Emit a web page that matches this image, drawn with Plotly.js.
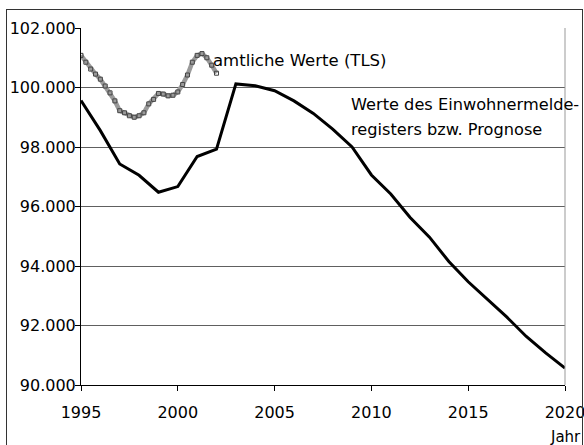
<!DOCTYPE html>
<html>
<head>
<meta charset="utf-8">
<script src="https://cdn.plot.ly/plotly-3.0.1.min.js"></script>
<style>
html,body{margin:0;padding:0;background:#fff;overflow:hidden;}
#wrap{position:relative;width:584px;height:445px;}
#chart{width:584px;height:445px;}
#frame{position:absolute;left:6px;top:9px;width:577px;height:445px;border:1.5px solid #333;box-sizing:border-box;pointer-events:none;}
</style>
</head>
<body>
<div id="wrap"><div id="chart"></div><div id="frame"></div></div>
<script>
// Einwohnermelderegister bzw. Prognose (yearly)
const years = [1995,1996,1997,1998,1999,2000,2001,2002,2003,2004,2005,2006,2007,2008,2009,2010,2011,2012,2013,2014,2015,2016,2017,2018,2019,2020];
const registerValues = [99560,98550,97430,97050,96480,96670,97680,97930,100120,100060,99890,99550,99130,98600,98000,97060,96420,95630,94970,94150,93470,92860,92280,91630,91080,90570];

// amtliche Werte (TLS), read at quarter-year steps
const tlsTimes = [1995.0,1995.25,1995.5,1995.75,1996.0,1996.25,1996.5,1996.75,1997.0,1997.25,1997.5,1997.75,1998.0,1998.25,1998.5,1998.75,1999.0,1999.25,1999.5,1999.75,2000.0,2000.25,2000.5,2000.75,2001.0,2001.25,2001.5,2001.75,2002.0];
const tlsValues = [101080,100850,100620,100450,100280,100050,99820,99550,99220,99150,99050,99000,99050,99150,99450,99600,99800,99780,99720,99740,99850,100100,100420,100850,101080,101140,101000,100750,100480];

const xTicks = [1995,2000,2005,2010,2015,2020];
const yTicks = [90000,92000,94000,96000,98000,100000,102000];

const labelTLS = "amtliche Werte (TLS)";
const labelReg1 = "Werte des Einwohnermelde-";
const labelReg2 = "registers bzw. Prognose";
const labelX = "Jahr";

const FONT = "DejaVu Sans, Arial, sans-serif";

const traces = [
  {
    x: tlsTimes, y: tlsValues, type: "scatter", mode: "lines+markers",
    line: {color: "#9a9a9a", width: 4.5},
    marker: {symbol: "square-open", size: 4, color: "#444", line: {width: 1, color: "#444"}},
    hoverinfo: "skip"
  },
  {
    x: years, y: registerValues, type: "scatter", mode: "lines",
    line: {color: "#000", width: 3},
    hoverinfo: "skip"
  }
];

const layout = {
  width: 584, height: 445,
  margin: {l: 81, r: 19, t: 28, b: 60, pad: 0},
  paper_bgcolor: "#fff", plot_bgcolor: "#fff",
  showlegend: false,
  separators: ",.",
  font: {family: FONT, size: 16, color: "#000"},
  xaxis: {
    range: [1995, 2020], tickvals: xTicks, ticktext: xTicks.map(String),
    showgrid: false, zeroline: false,
    showline: true, linecolor: "#000", linewidth: 1,
    ticks: "outside", ticklen: 5, tickcolor: "#000", tickwidth: 1,
    tickfont: {family: FONT, size: 16, color: "#000"},
    ticklabeloverflow: "allow",
    ticklabelstandoff: 8,
    automargin: false
  },
  yaxis: {
    range: [90000, 102000], tickvals: yTicks, tickformat: ",d",
    showgrid: true, gridcolor: "#606060", gridwidth: 1,
    zeroline: false,
    showline: true, linecolor: "#000", linewidth: 1,
    ticks: "outside", ticklen: 5, tickcolor: "#000", tickwidth: 1,
    tickfont: {family: FONT, size: 16, color: "#000"},
    ticklabeloverflow: "allow",
    ticklabelstandoff: -4,
    automargin: false
  },
  shapes: [
    {type: "line", xref: "paper", yref: "paper", x0: 1, x1: 1, y0: 0, y1: 1, line: {color: "#999", width: 1}}
  ],
  annotations: [
    {text: labelTLS, x: 2001.72, y: 100915, xref: "x", yref: "y", xanchor: "left", yanchor: "middle", showarrow: false, font: {family: FONT, size: 16.5, color: "#000"}},
    {text: labelReg1, x: 2008.85, y: 99438, xref: "x", yref: "y", xanchor: "left", yanchor: "middle", showarrow: false, font: {family: FONT, size: 16.2, color: "#000"}},
    {text: labelReg2, x: 2008.85, y: 98598, xref: "x", yref: "y", xanchor: "left", yanchor: "middle", showarrow: false, font: {family: FONT, size: 16.2, color: "#000"}},
    {text: labelX, x: 1.037, y: -0.1455, xref: "paper", yref: "paper", xanchor: "right", yanchor: "middle", showarrow: false, font: {family: FONT, size: 15, color: "#000"}}
  ]
};

Plotly.newPlot("chart", traces, layout, {staticPlot: true, displayModeBar: false});
</script>
</body>
</html>
